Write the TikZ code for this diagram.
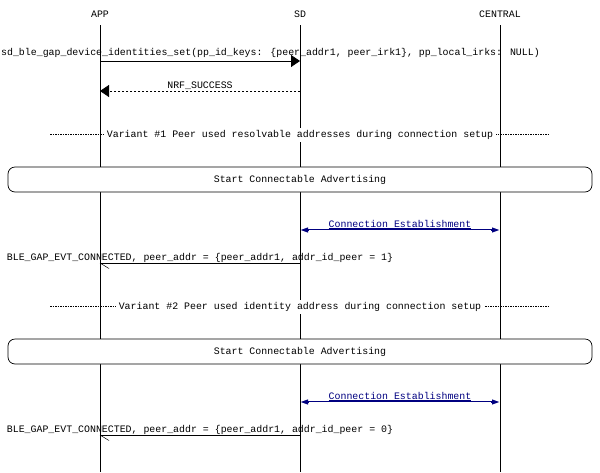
\documentclass[tikz,border=0pt]{standalone}
\usepackage{fontspec}
\setmainfont{Liberation Mono}
\usetikzlibrary{arrows.meta}
\definecolor{navy}{RGB}{0,0,128}
\begin{document}
\begin{tikzpicture}[x=1pt,y=-1pt,font=\fontsize{9.9}{12}\selectfont,
  life/.style={line width=0.8pt},
  lbl/.style={inner sep=0pt,anchor=base},
  msg/.style={line width=0.8pt,-{Triangle[length=9pt,width=12pt]}},
  ret/.style={line width=0.8pt,dash pattern=on 2pt off 2pt,-{Triangle[length=9pt,width=12pt]}},
  conn/.style={draw=navy,line width=2.6pt,{Triangle[length=8pt,width=4.5]}-{Triangle[length=8pt,width=4.5]}},
  connin/.style={draw=white,line width=0.9pt,shorten <=9pt,shorten >=9pt},
  div/.style={line width=0.5pt,dash pattern=on 1.5pt off 1pt},
  box/.style={draw,rounded corners=7pt,line width=0.7pt,minimum width=584pt,minimum height=25pt,fill=white}]
\useasboundingbox (0,0) rectangle (600,472);
\node[lbl] (app) at (100,17) {APP};
\node[lbl] (sd) at (300,17) {SD};
\node[lbl] (cen) at (500,17) {CENTRAL};
\coordinate (a0) at (100,25); \coordinate (a1) at (100,472);
\coordinate (s0) at (300,25); \coordinate (s1) at (300,472);
\coordinate (c0) at (500,25); \coordinate (c1) at (500,472);
\draw[life] (a0)--(a1); \draw[life] (s0)--(s1); \draw[life] (c0)--(c1);
% message 1
\coordinate (m1a) at (100,61); \coordinate (m1s) at (300,61);
\draw[msg] (m1a)--(m1s);
\node[lbl] (t1) at (270.5,55) {sd\_ble\_gap\_device\_identities\_set(pp\_id\_keys: \{peer\_addr1, peer\_irk1\}, pp\_local\_irks: NULL)};
% return
\coordinate (m2s) at (300,91); \coordinate (m2a) at (100,91);
\draw[ret] (m2s)--(m2a);
\node[lbl] (t2) at (200,88) {NRF\_SUCCESS};
% divider 1
\coordinate (d1l) at (50,134); \coordinate (d1r) at (550,134);
\draw[div] (d1l)--(d1r);
\node[lbl,fill=white,inner xsep=3pt,inner ysep=2pt] (t3) at (300,137.5) {Variant \#1 Peer used resolvable addresses during connection setup};
% box 1
\node[box] (b1) at (300,179.5) {Start Connectable Advertising};
% connection 1
\coordinate (e1s) at (300,230); \coordinate (e1c) at (500,230);
\draw[conn] (e1s)--(e1c); \draw[connin] (e1s)--(e1c);
\node[lbl,text=navy] (t4) at (400,227) {\underline{Connection Establishment}};
% connected 1
\coordinate (f1s) at (300,263); \coordinate (f1a) at (100,263); \coordinate (f1h) at (109,268.5);
\draw[life] (f1s)--(f1a); \draw[line width=0.5pt] (f1a)--(f1h);
\node[lbl] (t5) at (200,260) {BLE\_GAP\_EVT\_CONNECTED, peer\_addr = \{peer\_addr1, addr\_id\_peer = 1\}};
% divider 2
\coordinate (d2l) at (50,306); \coordinate (d2r) at (550,306);
\draw[div] (d2l)--(d2r);
\node[lbl,fill=white,inner xsep=3pt,inner ysep=2pt] (t6) at (300,309.5) {Variant \#2 Peer used identity address during connection setup};
% box 2
\node[box] (b2) at (300,351.5) {Start Connectable Advertising};
% connection 2
\coordinate (e2s) at (300,402); \coordinate (e2c) at (500,402);
\draw[conn] (e2s)--(e2c); \draw[connin] (e2s)--(e2c);
\node[lbl,text=navy] (t7) at (400,399) {\underline{Connection Establishment}};
% connected 2
\coordinate (f2s) at (300,435); \coordinate (f2a) at (100,435); \coordinate (f2h) at (109,440.5);
\draw[life] (f2s)--(f2a); \draw[line width=0.5pt] (f2a)--(f2h);
\node[lbl] (t8) at (200,432) {BLE\_GAP\_EVT\_CONNECTED, peer\_addr = \{peer\_addr1, addr\_id\_peer = 0\}};
\end{tikzpicture}
\end{document}
